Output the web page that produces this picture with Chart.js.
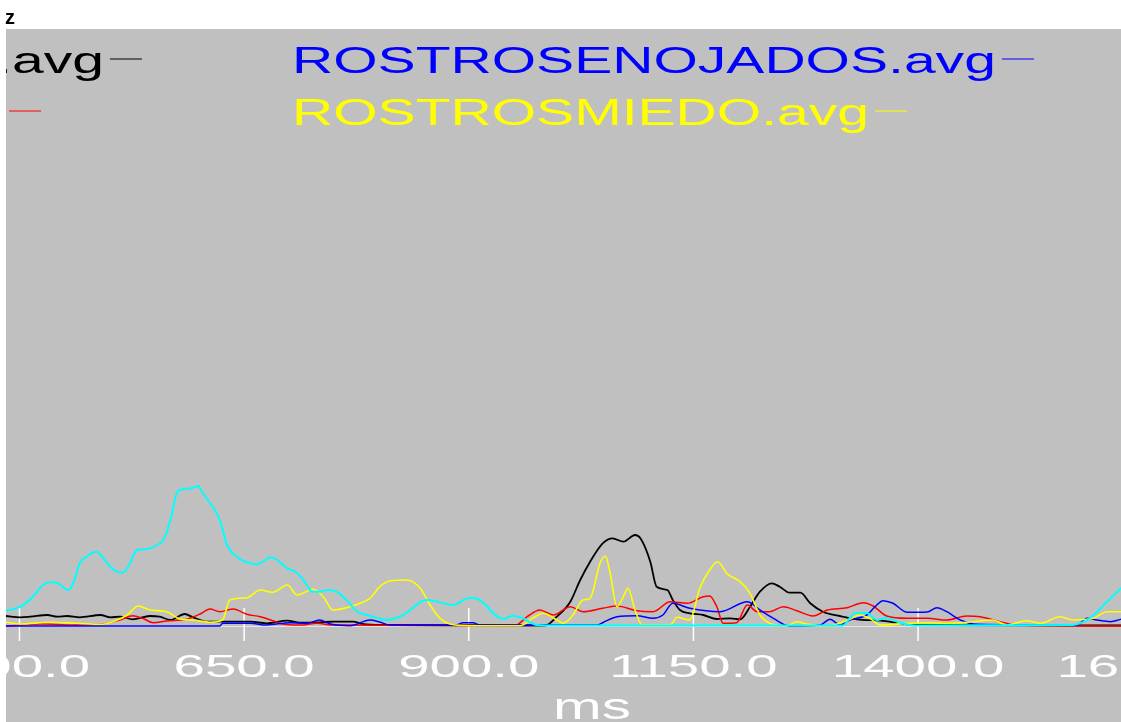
<!DOCTYPE html>
<html>
<head>
<meta charset="utf-8">
<script src="https://cdn.jsdelivr.net/npm/chart.js@4/dist/chart.umd.min.js"></script>
<style>
  html, body { margin: 0; padding: 0; background: #ffffff; }
  canvas { display: block; }
</style>
</head>
<body>
<canvas id="c" width="1121" height="722"></canvas>
<script>
// ---- data (time in ms, amplitude values) ----
const tickValues = [400, 650, 900, 1150, 1400, 1650];
const axisTitle = "ms";
const cornerText = "z";

const blackLabel = "ROSTROSNEUTROS.avg";
const redLabel = "ROSTROSALEGRES.avg";
const blueLabel = "ROSTROSENOJADOS.avg";
const yellowLabel = "ROSTROSMIEDO.avg";
const cyanLabel = "ROSTROSTRISTES.avg";

const cyanMs = [385,401,415,426,434,443,454,460,467,476,486,492,501,509,515,521,531,542,553,560,568,575,581,592,599,604,615,623,631,642,653,664,671,679,687,698,707,716,726,734,743,753,764,776,787,801,809,827,853,865,882,901,912,938,949,960,976,1000,1316,1330,1343,1354,1365,1380,1397,1572,1588,1599,1610,1626];
const cyanVals = [1.53,1.93,2.93,4.1,4.37,4.27,3.6,4.3,6.27,7.03,7.43,6.93,5.93,5.43,5.33,5.93,7.6,7.7,8.1,8.6,10.6,13.27,13.67,13.77,14.0,13.27,11.93,10.6,8.1,6.93,6.37,6.17,6.43,6.87,6.6,5.77,5.43,4.6,3.43,3.43,3.6,3.43,2.6,1.43,1.1,0.75,0.6,1.1,2.6,2.43,2.1,2.83,2.6,0.7,1.03,0.77,0.1,0.05,0.05,1.3,1.3,0.6,0.8,0.33,0.05,0.1,0.6,1.4,2.4,3.8];

const blackMs = [385,401,412,431,442,453,467,490,501,512,526,545,556,568,584,593,609,638,657,675,698,712,734,749,771,782,801,985,998,1013,1024,1035,1049,1060,1072,1085,1091,1102,1109,1121,1127,1135,1146,1161,1176,1191,1202,1213,1224,1237,1246,1257,1269,1280,1294,1313,1332,1358,1376,1394,1626];
const blackVals = [1.0,0.87,0.93,1.1,0.93,1.0,0.87,1.1,0.87,0.93,0.67,1.0,0.93,0.6,1.2,0.87,0.43,0.43,0.43,0.27,0.53,0.33,0.37,0.43,0.43,0.2,0.1,0.05,0.93,2.43,4.6,6.43,8.27,8.77,8.43,9.1,8.77,6.43,3.93,3.6,2.6,1.6,1.27,1.1,0.7,0.77,0.67,1.93,3.43,4.27,3.93,3.33,3.33,2.27,1.43,1.0,0.67,0.53,0.33,0.1,0.05];

const blueMs = [385,623,626,657,675,701,720,734,746,768,790,801,812,885,894,905,912,1043,1049,1065,1087,1105,1116,1127,1146,1180,1210,1224,1239,1257,1291,1302,1313,1324,1343,1352,1361,1372,1388,1410,1421,1432,1447,1466,1577,1588,1599,1614,1626];
const blueVals = [0.0,0.0,0.27,0.27,0.1,0.33,0.27,0.6,0.2,0.03,0.6,0.4,0.1,0.07,0.33,0.33,0.1,0.1,0.33,0.93,1.03,0.77,1.1,2.27,1.77,1.43,2.43,1.6,0.77,0.0,0.1,0.67,0.1,0.6,1.1,1.93,2.53,2.27,1.37,1.4,1.83,1.43,0.6,0.17,0.1,0.77,0.6,0.43,0.67];

const redMs = [385,426,460,490,512,526,537,549,564,586,601,612,623,638,653,668,682,693,712,731,749,951,965,979,994,1013,1027,1049,1065,1087,1105,1124,1143,1161,1168,1176,1183,1198,1210,1221,1235,1250,1265,1283,1299,1321,1339,1350,1365,1388,1410,1432,1454,1469,1491,1510,1626];
const redVals = [0.0,0.2,0.1,0.17,0.6,1.03,0.77,0.33,0.5,0.67,1.2,1.7,1.43,1.7,1.17,0.93,0.53,0.2,0.1,0.27,0.1,0.03,0.93,1.6,1.1,1.93,1.43,1.77,2.0,1.53,1.43,2.43,2.27,2.93,3.0,1.93,0.27,0.33,2.1,1.43,1.43,1.93,1.53,1.0,1.6,1.83,2.33,2.0,1.0,0.77,0.77,0.6,1.0,0.93,0.43,0.1,0.0];

const yellowMs = [385,401,434,464,490,504,520,532,545,564,579,593,612,626,634,653,668,682,698,709,727,738,749,764,779,790,801,812,831,846,857,868,879,901,957,971,983,998,1005,1016,1027,1035,1046,1052,1057,1065,1072,1077,1085,1093,1124,1132,1146,1157,1168,1177,1187,1202,1213,1224,1235,1254,1265,1276,1299,1324,1335,1346,1358,1388,1410,1432,1461,1483,1499,1521,1536,1558,1572,1595,1610,1626];
const yellowVals = [0.37,0.2,0.37,0.27,0.17,0.43,1.1,2.0,1.6,1.43,0.67,0.6,0.37,0.6,2.6,2.83,3.6,3.37,4.1,3.1,3.67,2.93,1.6,1.83,2.27,2.77,3.93,4.5,4.6,3.77,2.1,0.77,0.2,0.03,0.03,0.77,1.27,0.6,0.27,1.1,2.6,2.77,6.27,7.0,5.43,1.93,2.93,3.77,1.6,0.1,0.1,0.87,0.6,3.77,5.6,6.43,5.27,4.43,3.27,1.1,0.27,0.0,0.43,0.2,0.0,0.67,1.1,0.77,0.1,0.27,0.33,0.27,0.43,0.6,0.1,0.53,0.27,0.93,0.6,0.77,1.43,1.43];

// ---- helpers ----
function pts(xs, ys) { return xs.map((x, i) => ({ x: x, y: ys[i] })); }

const FONT = '"Liberation Sans", Arial, sans-serif';

function stretchText(ctx, text, x, y, sx, align) {
  const w = ctx.measureText(text).width * sx;
  let left = x;
  if (align === 'center') left = x - w / 2;
  else if (align === 'right') left = x - w;
  ctx.save();
  ctx.translate(left, y);
  ctx.scale(sx, 1);
  ctx.textAlign = 'left';
  ctx.textBaseline = 'alphabetic';
  ctx.fillText(text, 0, 0);
  ctx.restore();
  return left + w;
}

const legendItems = [
  { label: blackLabel, color: '#000000', x: 104, y: 73, align: 'right' },
  { label: redLabel, color: '#ff0000', x: 3, y: 125, align: 'right' },
  { label: blueLabel, color: '#0000ff', x: 292, y: 73, align: 'left' },
  { label: yellowLabel, color: '#ffff00', x: 292, y: 125, align: 'left' }
];

const decor = {
  id: 'decor',
  beforeDraw(chart) {
    const ctx = chart.ctx;
    ctx.save();
    ctx.fillStyle = '#ffffff';
    ctx.fillRect(0, 0, chart.width, chart.height);
    ctx.fillStyle = '#c0c0c0';
    ctx.fillRect(6, 29, chart.width - 6, chart.height - 29);
    ctx.restore();
  },
  beforeDatasetsDraw(chart) {
    const ctx = chart.ctx;
    const xs = chart.scales.x, ys = chart.scales.y;
    const y0 = ys.getPixelForValue(0);
    ctx.save();
    ctx.strokeStyle = '#e6e6e6';
    ctx.lineWidth = 1;
    ctx.beginPath();
    ctx.moveTo(chart.chartArea.left, Math.round(y0) + 0.5);
    ctx.lineTo(chart.chartArea.right, Math.round(y0) + 0.5);
    ctx.stroke();
    ctx.strokeStyle = '#ffffff';
    ctx.lineWidth = 1.5;
    tickValues.forEach(v => {
      const px = xs.getPixelForValue(v);
      ctx.beginPath();
      ctx.moveTo(px, y0 - 18);
      ctx.lineTo(px, y0 + 15);
      ctx.stroke();
    });
    ctx.restore();
  },
  afterDraw(chart) {
    const ctx = chart.ctx;
    const xs = chart.scales.x;
    ctx.save();
    ctx.beginPath();
    ctx.rect(6, 29, chart.width - 6, chart.height - 29);
    ctx.clip();
    // tick labels
    ctx.fillStyle = '#ffffff';
    ctx.font = '31px ' + FONT;
    tickValues.forEach(v => {
      stretchText(ctx, v.toFixed(1), xs.getPixelForValue(v), 677, 1.82, 'center');
    });
    // axis title
    ctx.font = '37px ' + FONT;
    stretchText(ctx, axisTitle, 592, 719, 1.58, 'center');
    // legend
    ctx.font = '36px ' + FONT;
    legendItems.forEach(it => {
      ctx.fillStyle = it.color;
      const end = stretchText(ctx, it.label, it.x, it.y, 1.585, it.align);
      const dx = it.align === 'right' ? it.x + 6 : end + 6;
      ctx.strokeStyle = it.color;
      ctx.lineWidth = 1;
      ctx.beginPath();
      ctx.moveTo(dx, it.y - 14);
      ctx.lineTo(dx + 32, it.y - 14);
      ctx.stroke();
    });
    ctx.restore();
    // corner text
    ctx.save();
    ctx.fillStyle = '#000000';
    ctx.font = 'bold 20px ' + FONT;
    ctx.textBaseline = 'alphabetic';
    ctx.fillText(cornerText, 5, 24);
    ctx.restore();
  }
};

const mk = (label, xs, ys, color, w, order) => ({
  label: label,
  data: pts(xs, ys),
  borderColor: color,
  backgroundColor: color,
  borderWidth: w,
  pointRadius: 0,
  cubicInterpolationMode: 'monotone',
  fill: false,
  order: order
});

new Chart(document.getElementById('c'), {
  type: 'line',
  data: {
    datasets: [
      mk(cyanLabel, cyanMs, cyanVals, '#00ffff', 2, 0),
      mk(yellowLabel, yellowMs, yellowVals, '#ffff00', 1.6, 1),
      mk(blueLabel, blueMs, blueVals, '#0000ff', 1.5, 2),
      mk(redLabel, redMs, redVals, '#ff0000', 1.5, 3),
      mk(blackLabel, blackMs, blackVals, '#000000', 1.8, 4)
    ]
  },
  options: {
    responsive: false,
    animation: false,
    devicePixelRatio: 1,
    layout: { padding: { left: 5, right: 0, top: 28, bottom: 81 } },
    scales: {
      x: { type: 'linear', min: 383.9, max: 1625.8, display: false },
      y: { type: 'linear', min: -1.5, max: 59.8, display: false }
    },
    plugins: {
      legend: { display: false },
      tooltip: { enabled: false },
      title: { display: false }
    }
  },
  plugins: [decor]
});
</script>
</body>
</html>
